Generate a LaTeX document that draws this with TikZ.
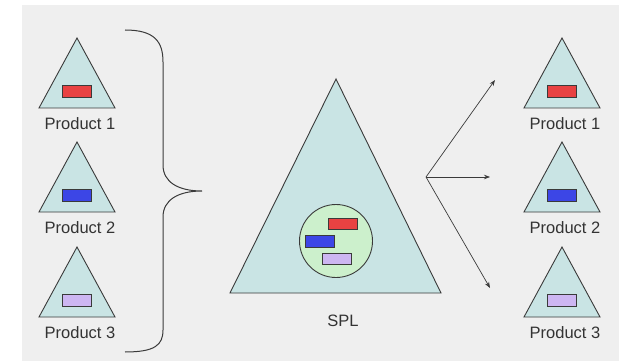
\documentclass[tikz,border=0pt]{standalone}
\usepackage{fontspec}
\setmainfont{Liberation Sans}
\usetikzlibrary{arrows.meta}
\definecolor{bggray}{HTML}{EFEFEF}
\definecolor{trifill}{HTML}{C9E4E4}
\definecolor{edge}{HTML}{3A3A3A}
\definecolor{fred}{HTML}{E84242}
\definecolor{fblue}{HTML}{3C46E6}
\definecolor{fpurple}{HTML}{CDB6F2}
\definecolor{fgreen}{HTML}{CCF0CC}
\tikzset{
  tri/.style={draw=edge, fill=trifill, line width=0.9pt, line join=miter},
  feat/.style={draw=edge, line width=0.8pt},
  lbl/.style={font=\fontsize{16.5}{18}\selectfont, text=black!80, inner sep=0pt},
  link/.style={draw=edge, line width=0.7pt, -{Stealth[length=6pt,width=4.5pt]}},
  bracket/.style={draw=edge, line width=1pt},
}
\begin{document}
\begin{tikzpicture}[x=1pt,y=-1pt]
  \useasboundingbox (0,0) rectangle (619,361);
  % backdrop
  \fill[white] (0,0) rectangle (619,361);
  \fill[bggray] (22,5) rectangle (619,361);

  % product triangles on both sides: apex x, top y, feature colour, number
  \foreach \cx/\side in {77/L,562/R}{
    \foreach \ty/\col/\n in {38/fred/1,142/fblue/2,247/fpurple/3}{
      \coordinate (apex\side\n) at (\cx,\ty);
      \draw[tri] (\cx,\ty) -- (\cx+38,\ty+70) -- (\cx-38,\ty+70) -- cycle;
      \draw[feat, fill=\col] (\cx-15,\ty+47) rectangle (\cx+14,\ty+59);
      \node[lbl] (prod\side\n) at (\cx+3,\ty+86) {Product \n};
    }
  }

  % product line triangle
  \coordinate (splapex) at (336,79);
  \draw[tri] (splapex) -- (441,293) -- (230,293) -- cycle;
  \node[draw=edge, fill=fgreen, line width=0.9pt, circle, minimum size=73pt, inner sep=0pt] (pool) at (336,241) {};
  \draw[feat, fill=fred] (328,218) rectangle (357,229);
  \draw[feat, fill=fblue] (305,235) rectangle (334,247);
  \draw[feat, fill=fpurple] (322,253) rectangle (351,264);
  \node[lbl] (spl) at (343,321) {SPL};

  % curly brace grouping the three products
  \draw[bracket] (125,30) .. controls (155,30) and (163,42) .. (163,62)
    -- (163,165) .. controls (163,182) and (178,191) .. (202,191)
    .. controls (178,191) and (163,200) .. (163,217)
    -- (163,330) .. controls (163,345) and (155,352) .. (125,352);

  % derivation arrows
  \coordinate (fork) at (426,177);
  \coordinate (t1) at (495,80);
  \coordinate (t2) at (490,177);
  \coordinate (t3) at (490,288);
  \draw[link] (fork) -- (t1);
  \draw[link] (fork) -- (t2);
  \draw[link] (fork) -- (t3);
\end{tikzpicture}
\end{document}
